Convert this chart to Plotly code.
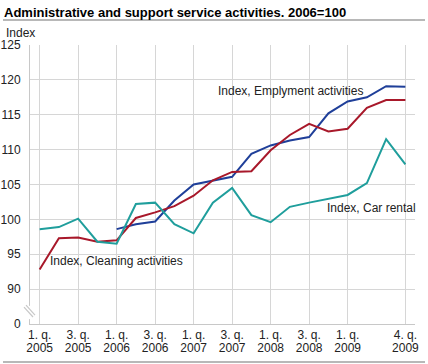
import plotly.graph_objects as go

quarters = ["1. q. 2005", "2. q. 2005", "3. q. 2005", "4. q. 2005",
            "1. q. 2006", "2. q. 2006", "3. q. 2006", "4. q. 2006",
            "1. q. 2007", "2. q. 2007", "3. q. 2007", "4. q. 2007",
            "1. q. 2008", "2. q. 2008", "3. q. 2008", "4. q. 2008",
            "1. q. 2009", "2. q. 2009", "3. q. 2009", "4. q. 2009"]

employment = [None, None, None, None, 98.6, 99.3, 99.7, 102.7, 105.0, 105.6,
              106.1, 109.4, 110.6, 111.3, 111.8, 115.2, 116.9, 117.5, 119.1, 119.0]
cleaning = [92.8, 97.3, 97.4, 96.8, 97.0, 100.2, 101.0, 101.9, 103.4, 105.6,
            106.8, 106.9, 109.9, 112.1, 113.7, 112.6, 113.0, 116.0, 117.1, 117.1]
car_rental = [98.6, 98.9, 100.1, 96.8, 96.5, 102.2, 102.4, 99.3, 98.0, 102.4,
              104.5, 100.6, 99.6, 101.8, 102.4, 103.0, 103.5, 105.2, 111.5, 107.9]

x_tick_vals = ["1. q. 2005", "3. q. 2005", "1. q. 2006", "3. q. 2006", "1. q. 2007",
               "3. q. 2007", "1. q. 2008", "3. q. 2008", "1. q. 2009", "4. q. 2009"]
x_tick_quarter = ["1. q.", "3. q.", "1. q.", "3. q.", "1. q.",
                  "3. q.", "1. q.", "3. q.", "1. q.", "4. q."]
x_tick_year = ["2005", "2005", "2006", "2006", "2007",
               "2007", "2008", "2008", "2009", "2009"]
y_tick_vals = [85, 90, 95, 100, 105, 110, 115, 120, 125]
y_tick_text = ["0", "90", "95", "100", "105", "110", "115", "120", "125"]

FONT = "Liberation Sans, Arial, sans-serif"
GRID = "#d6d6d6"
AXIS = "#c8c8c8"

fig = go.Figure()
for name, vals, col in [("Index, Emplyment activities", employment, "#1f3f99"),
                        ("Index, Cleaning activities", cleaning, "#a8182a"),
                        ("Index, Car rental", car_rental, "#1f9e9c")]:
    fig.add_trace(go.Scatter(x=quarters, y=vals, mode="lines", name=name,
                             line=dict(color=col, width=2), connectgaps=False,
                             hoverinfo="skip"))
# carrier trace for the year-row axis
fig.add_trace(go.Scatter(x=quarters, y=[None] * len(quarters), xaxis="x2",
                         mode="lines", showlegend=False, hoverinfo="skip"))

fig.update_layout(
    width=428, height=364,
    margin=dict(l=30, r=13, t=45, b=40),
    paper_bgcolor="white", plot_bgcolor="white",
    showlegend=False,
    font=dict(family=FONT, size=12, color="#222222"),
    xaxis=dict(type="category", categoryorder="array", categoryarray=quarters,
               range=[-0.5, 19.5], tickmode="array", tickvals=x_tick_vals,
               ticktext=x_tick_quarter, showgrid=True, gridcolor=GRID, gridwidth=1,
               showline=True, linecolor=AXIS, linewidth=1, ticks="",
               zeroline=False, automargin=False, ticklabelstandoff=0,
               tickfont=dict(size=12, color="#222222")),
    xaxis2=dict(type="category", categoryorder="array", categoryarray=quarters,
                overlaying="x", side="bottom", anchor="y", matches="x",
                range=[-0.5, 19.5], tickmode="array", tickvals=x_tick_vals,
                ticktext=x_tick_year, showgrid=False, showline=False, ticks="",
                zeroline=False, automargin=False, ticklabelstandoff=15,
                tickfont=dict(size=12, color="#222222")),
    yaxis=dict(range=[85, 125], tickmode="array", tickvals=y_tick_vals,
               ticktext=y_tick_text, showgrid=True, gridcolor=GRID, gridwidth=1,
               showline=True, linecolor=AXIS, linewidth=1, ticks="",
               zeroline=False, ticklabelstandoff=6, automargin=False,
               tickfont=dict(size=12, color="#222222")),
    annotations=[
        dict(text="<b>Administrative and support service activities. 2006=100</b>",
             xref="paper", yref="paper", x=-28/385, y=1 + 33/279, xanchor="left",
             yanchor="middle", showarrow=False, font=dict(size=13, color="#000000")),
        dict(text="Index", xref="paper", yref="paper", x=-26/385, y=1 + 12/279,
             xanchor="left", yanchor="middle", showarrow=False,
             font=dict(size=12, color="#222222")),
        dict(text="Index, Emplyment activities", xref="x", yref="y", x=9.15, y=118.4,
             xanchor="left", yanchor="middle", showarrow=False,
             font=dict(size=12, color="#222222")),
        dict(text="Index, Car rental", xref="x", yref="y", x=14.85, y=101.7,
             xanchor="left", yanchor="middle", showarrow=False,
             font=dict(size=12, color="#222222")),
        dict(text="Index, Cleaning activities", xref="x", yref="y", x=0.45, y=94.0,
             xanchor="left", yanchor="middle", showarrow=False,
             font=dict(size=12, color="#222222")),
    ],
    shapes=[
        dict(type="line", xref="paper", yref="paper", x0=-27/385, x1=1 + 10/385,
             y0=1 + 25/279, y1=1 + 25/279, line=dict(color="#a0a0a0", width=1.5)),
        dict(type="line", xref="paper", yref="paper", x0=-27/385, x1=1 + 10/385,
             y0=-38/279, y1=-38/279, line=dict(color="#a0a0a0", width=1.5)),
        dict(type="rect", xref="paper", yref="y", x0=-3/385, x1=3/385,
             y0=85.7, y1=87.6, fillcolor="white", line=dict(width=0), layer="above"),
        dict(type="line", xref="paper", yref="y", x0=-6/385, x1=3/385,
             y0=87.43, y1=86.0, line=dict(color="#c8c8c8", width=1.2), layer="above"),
        dict(type="line", xref="paper", yref="y", x0=-4/385, x1=5/385,
             y0=87.71, y1=86.28, line=dict(color="#c8c8c8", width=1.2), layer="above"),
    ],
)

fig.write_html("out.html", config={"displayModeBar": False},
               post_script="document.body.style.margin='0';document.body.style.overflow='hidden';")
